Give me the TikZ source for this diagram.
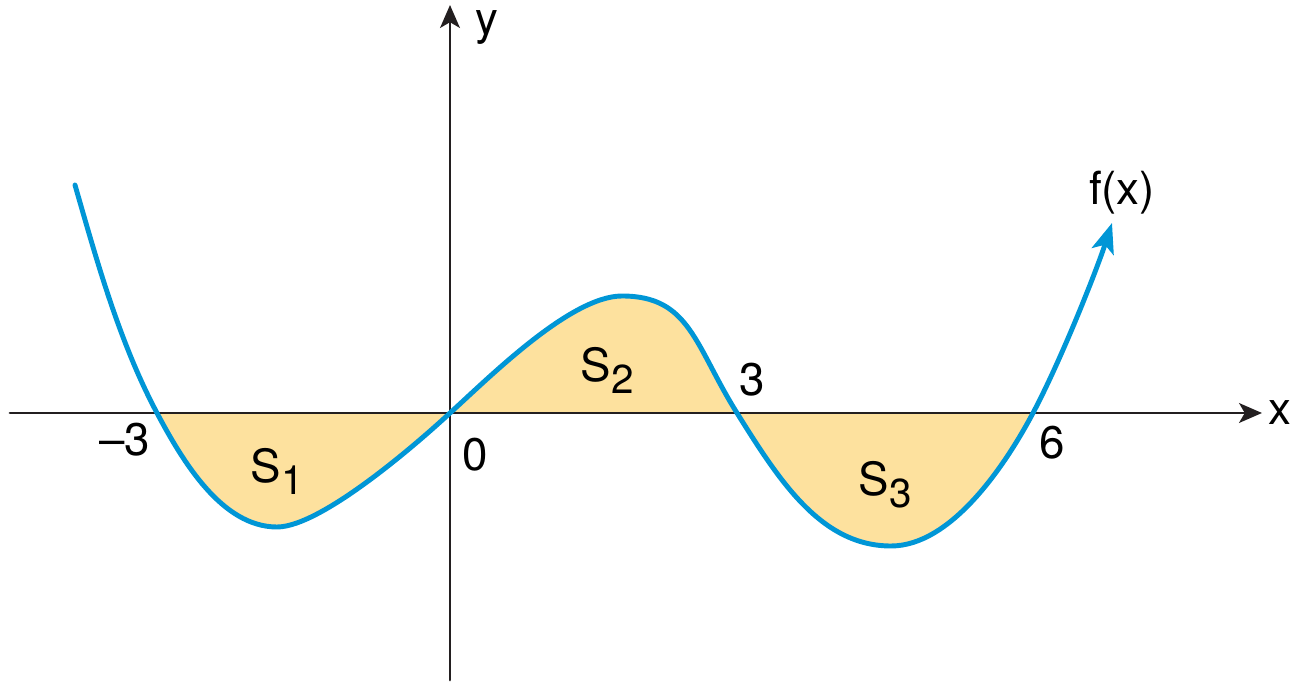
\documentclass[tikz,border=0pt]{standalone}
\usepackage{fontspec}
\setmainfont{TeX Gyre Heros}
\usetikzlibrary{arrows.meta}
\definecolor{axisgray}{RGB}{35,31,32}
\definecolor{curveblue}{RGB}{0,150,214}
\definecolor{areafill}{RGB}{253,225,158}
\tikzset{
    lab/.style={
        font=\fontsize{13}{16}\selectfont, inner sep=1pt
    }
}
\newcommand{\lowidx}[1]{\raisebox{-0.5ex}{\fontsize{11.5}{14}\selectfont #1}}

\begin{document}
\begin{tikzpicture}[x=1cm,y=1cm, line cap=round, line join=round]

% frame
\useasboundingbox (-4.5,-2.77) rectangle (8.49,4.13);

\tikzset{
  axis/.style={draw=axisgray, line width=0.85pt, -{Stealth[length=6.5pt, width=5.6pt, inset=1.6pt]}},
  curve/.style={draw=curveblue, line width=1.4pt},
  area/.style={fill=areafill, draw=none},
}

% points of the graph
\coordinate (O) at (0,0);
\coordinate (L0) at (-3.75,2.28);
\coordinate (R1) at (-2.93,0);
\coordinate (M1) at (-1.73,-1.14);
\coordinate (M2) at (1.72,1.17);
\coordinate (R3) at (2.87,0);
\coordinate (M3) at (4.41,-1.33);
\coordinate (R6) at (5.83,0);
\coordinate (E) at (6.62,1.90);

% axis ends
\coordinate (XL) at (-4.40,0);
\coordinate (XR) at (8.12,0);
\coordinate (YB) at (0,-2.67);
\coordinate (YT) at (0,4.08);

% shaded areas S1, S2, S3
\fill[area] (R1) .. controls +(0.258,-0.486) and +(-0.55,0) .. (M1)
    .. controls +(0.45,0) and +(-0.29,-0.27) .. (O)
    .. controls +(0.372,0.335) and +(-0.52,0) .. (M2)
    .. controls +(0.68,0) and +(-0.424,0.678) .. (R3)
    .. controls +(0.424,-0.678) and +(-0.7,0) .. (M3)
    .. controls +(0.6,0) and +(-0.281,-0.530) .. (R6) -- cycle;

% axes
\draw[axis] (XL) -- (XR);
\draw[axis] (YB) -- (YT);

% f(x)
\draw[curve, -{Stealth[length=8.5pt, width=6.5pt, inset=2pt]}] (L0)
    .. controls +(0.221,-0.769) and +(-0.375,0.706) .. (R1)
    .. controls +(0.258,-0.486) and +(-0.55,0) .. (M1)
    .. controls +(0.45,0) and +(-0.29,-0.27) .. (O)
    .. controls +(0.372,0.335) and +(-0.52,0) .. (M2)
    .. controls +(0.68,0) and +(-0.424,0.678) .. (R3)
    .. controls +(0.424,-0.678) and +(-0.7,0) .. (M3)
    .. controls +(0.6,0) and +(-0.281,-0.530) .. (R6)
    .. controls +(0.281,0.530) and +(-0.155,-0.476) .. (E);

% labels
\node[lab] (xlab) at (8.30,0) {x};
\node[lab] (ylab) at (0.37,3.85) {y};
\node[lab] (flab) at (6.72,2.20) {f(x)};

\node[lab] (tm3) at (-3.25,-0.27) {–3};
\node[lab] (t0) at (0.25,-0.42) {0};
\node[lab] (t3) at (3.02,0.33) {3};
\node[lab] (t6) at (6.02,-0.30) {6};

\node[lab] (s1) at (-1.73,-0.58) {S\lowidx{1}};
\node[lab] (s2) at (1.57,0.43) {S\lowidx{2}};
\node[lab] (s3) at (4.35,-0.72) {S\lowidx{3}};

\end{tikzpicture}
\end{document}
